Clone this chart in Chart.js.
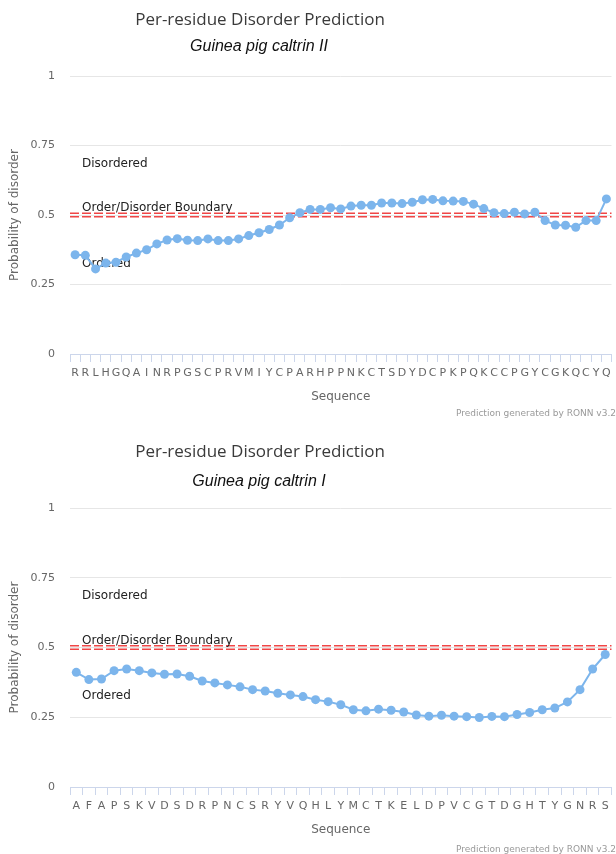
<!DOCTYPE html>
<html>
<head>
<meta charset="utf-8">
<script src="https://cdn.jsdelivr.net/npm/chart.js@4"></script>
<style>
html, body { margin: 0; padding: 0; background: #fff; }
canvas { display: block; }
</style>
</head>
<body>
<canvas id="chart-top" width="616" height="432"></canvas>
<canvas id="chart-bottom" width="616" height="422"></canvas>
<script>
const mainTitle = 'Per-residue Disorder Prediction';
const creditText = 'Prediction generated by RONN v3.2';
const xTitle = 'Sequence';
const yTitle = 'Probability of disorder';
const yTicks = [0, 0.25, 0.5, 0.75, 1];
const boundary = 0.5;
const bandLabels = ['Disordered', 'Order/Disorder Boundary', 'Ordered'];
const bandLabelValues = [0.685, 0.525, 0.325];

const caltrin2Name = 'Guinea pig caltrin II';
const caltrin2Seq = 'RRLHGQAINRPGSCPRVMIYCPARHPPNKCTSDYDCPKPQKCCPGYCGKQCYQ'.split('');
const caltrin2Values = [
    0.357, 0.355, 0.306, 0.327, 0.330, 0.349, 0.363, 0.375, 0.396, 0.410,
    0.415, 0.409, 0.408, 0.414, 0.408, 0.408, 0.414, 0.426, 0.436, 0.448,
    0.464, 0.490, 0.508, 0.520, 0.520, 0.526, 0.522, 0.532, 0.535, 0.535,
    0.543, 0.543, 0.541, 0.546, 0.555, 0.556, 0.551, 0.550, 0.549, 0.539,
    0.523, 0.508, 0.505, 0.510, 0.504, 0.510, 0.480, 0.464, 0.463, 0.456,
    0.480, 0.480, 0.558
];

const caltrin1Name = 'Guinea pig caltrin I';
const caltrin1Seq = 'AFAPSKVDSDRPNCSRYVQHLYMCTKELDPVCGTDGHTYGNRS'.split('');
const caltrin1Values = [
    0.411, 0.385, 0.387, 0.417, 0.423, 0.417, 0.409, 0.404, 0.405, 0.397,
    0.380, 0.373, 0.366, 0.359, 0.349, 0.344, 0.336, 0.330, 0.324, 0.313,
    0.306, 0.295, 0.277, 0.273, 0.279, 0.275, 0.269, 0.258, 0.254, 0.257,
    0.254, 0.252, 0.249, 0.253, 0.252, 0.260, 0.267, 0.277, 0.283, 0.305,
    0.349, 0.423, 0.475
];

const FONT = '"DejaVu Sans", sans-serif';

// boundary line, band labels, titles and credit
const decorations = {
    id: 'decorations',
    beforeDatasetsDraw(chart) {
        const { ctx, chartArea: area } = chart;
        const y = chart.scales.y;
        const yb = y.getPixelForValue(boundary);
        ctx.save();
        ctx.strokeStyle = '#f04646';
        ctx.lineWidth = 1.6;
        ctx.setLineDash([9, 3]);
        [-1.8, 1.8].forEach(d => {
            ctx.beginPath();
            ctx.moveTo(area.left, yb + d);
            ctx.lineTo(area.right, yb + d);
            ctx.stroke();
        });
        ctx.setLineDash([]);
        ctx.fillStyle = '#222';
        ctx.font = '12px ' + FONT;
        ctx.textBaseline = 'middle';
        bandLabels.forEach((t, i) => {
            ctx.fillText(t, area.left + 12, y.getPixelForValue(bandLabelValues[i]));
        });
        ctx.restore();
    },
    afterDraw(chart, args, opts) {
        const { ctx } = chart;
        ctx.save();
        ctx.textBaseline = 'middle';
        ctx.textAlign = 'center';
        ctx.fillStyle = '#3a3a3a';
        ctx.font = '17px "Open Sans", sans-serif';
        ctx.fillText(mainTitle, 260, opts.titleY);
        ctx.fillStyle = '#111';
        ctx.font = 'italic 16px "Liberation Sans", Arial, sans-serif';
        ctx.fillText(opts.subtitle, 259, opts.subtitleY);
        ctx.textAlign = 'right';
        ctx.fillStyle = '#999';
        ctx.font = '9px ' + FONT;
        ctx.fillText(creditText, 616, opts.creditY);
        ctx.restore();
    }
};

function makeChart(id, labels, values, deco, padBottom) {
    const ctx = document.getElementById(id).getContext('2d');
    return new Chart(ctx, {
        type: 'line',
        data: {
            labels: labels,
            datasets: [{
                data: values,
                borderColor: '#7cb5ec',
                backgroundColor: '#7cb5ec',
                borderWidth: 2,
                pointRadius: 4.5,
                pointHoverRadius: 4.5,
                pointBorderWidth: 0,
                tension: 0
            }]
        },
        options: {
            responsive: false,
            animation: false,
            layout: { padding: { top: 76, bottom: padBottom, left: 0, right: 0 } },
            plugins: {
                legend: { display: false },
                tooltip: { enabled: false },
                decorations: deco
            },
            scales: {
                x: {
                    type: 'category',
                    offset: true,
                    grid: { offset: true, drawOnChartArea: false, tickLength: 8, color: '#ccd6eb' },
                    border: { color: '#ccd6eb' },
                    ticks: { autoSkip: false, maxRotation: 0, color: '#666', font: { family: FONT, size: 11 }, padding: 5 },
                    title: { display: true, text: xTitle, color: '#666', font: { family: FONT, size: 12 }, padding: 0 },
                    afterFit: s => { s.height = 50; }
                },
                y: {
                    min: 0,
                    max: 1,
                    afterBuildTicks: s => { s.ticks = yTicks.map(v => ({ value: v })); },
                    grid: {
                        drawTicks: false,
                        color: c => (c.tick && c.tick.value === 0) ? 'rgba(0,0,0,0)' : '#e6e6e6'
                    },
                    border: { display: false },
                    ticks: { color: '#666', font: { family: FONT, size: 11 }, padding: 15, callback: v => String(v) },
                    title: { display: true, text: yTitle, color: '#666', font: { family: FONT, size: 12 }, padding: { top: 8, bottom: 0 } },
                    afterFit: s => { s.width = 70; }
                }
            }
        },
        plugins: [decorations]
    });
}

makeChart('chart-top', caltrin2Seq, caltrin2Values,
    { subtitle: caltrin2Name, titleY: 20, subtitleY: 47, creditY: 414 }, 28);
makeChart('chart-bottom', caltrin1Seq, caltrin1Values,
    { subtitle: caltrin1Name, titleY: 20, subtitleY: 50, creditY: 418 }, 17);
</script>
</body>
</html>
